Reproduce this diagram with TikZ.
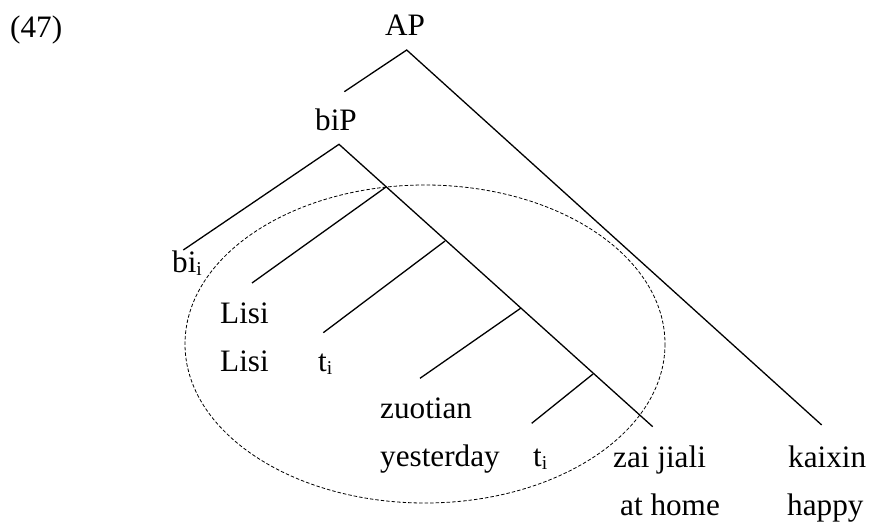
\documentclass[tikz,border=0pt]{standalone}
\usepackage{fontspec}
\setmainfont{Liberation Serif}
\newcommand{\subi}{\raisebox{-3pt}{\fontsize{19.5}{19.5}\selectfont i}}
\begin{document}
\begin{tikzpicture}[x=1pt,y=-1pt,
  lbl/.style={anchor=base west,inner sep=0pt,font=\fontsize{31.2}{36}\selectfont},
  branch/.style={line width=1.3pt},
  circ/.style={line width=0.8pt,dash pattern=on 3.5pt off 2pt}]
\useasboundingbox (0,0) rectangle (872,525);
% labels
\node[lbl] (num) at (10,37) {(47)};
\node[lbl] (ap) at (385,35) {AP};
\node[lbl] (bip) at (315,130) {biP};
\node[lbl] (bi) at (172,272) {bi\subi};
\node[lbl] (lisi1) at (220,323) {Lisi};
\node[lbl] (lisi2) at (220,371) {Lisi};
\node[lbl] (t1) at (318,371) {t\subi};
\node[lbl] (zuo) at (380,418) {zuotian};
\node[lbl] (yes) at (380,466) {yesterday};
\node[lbl] (t2) at (533,466) {t\subi};
\node[lbl] (zai) at (613,467) {zai jiali};
\node[lbl] (home) at (620,515) {at home};
\node[lbl] (kai) at (788,467) {kaixin};
\node[lbl] (happy) at (787,515) {happy};
% tree points
\coordinate (apx) at (406.7,50);
\coordinate (apl) at (344.3,91.7);
\coordinate (apr) at (821.7,425);
\coordinate (bpx) at (339,144.3);
\coordinate (bpl) at (183.3,250);
\coordinate (bpe) at (652.7,426.7);
\coordinate (n1) at (386,187);
\coordinate (n1l) at (252,283);
\coordinate (n2) at (445,241);
\coordinate (n2l) at (323.3,332.7);
\coordinate (n3) at (521,308);
\coordinate (n3l) at (420,378.3);
\coordinate (n4) at (593,374);
\coordinate (n4l) at (531.7,423.3);
\draw[branch] (apl) -- (apx) -- (apr);
\draw[branch] (bpl) -- (bpx) -- (bpe);
\draw[branch] (n1) -- (n1l);
\draw[branch] (n2) -- (n2l);
\draw[branch] (n3) -- (n3l);
\draw[branch] (n4) -- (n4l);
% domain ellipse
\coordinate (ec) at (425,344);
\draw[circ] (ec) ellipse [x radius=240, y radius=159];
\end{tikzpicture}
\end{document}
